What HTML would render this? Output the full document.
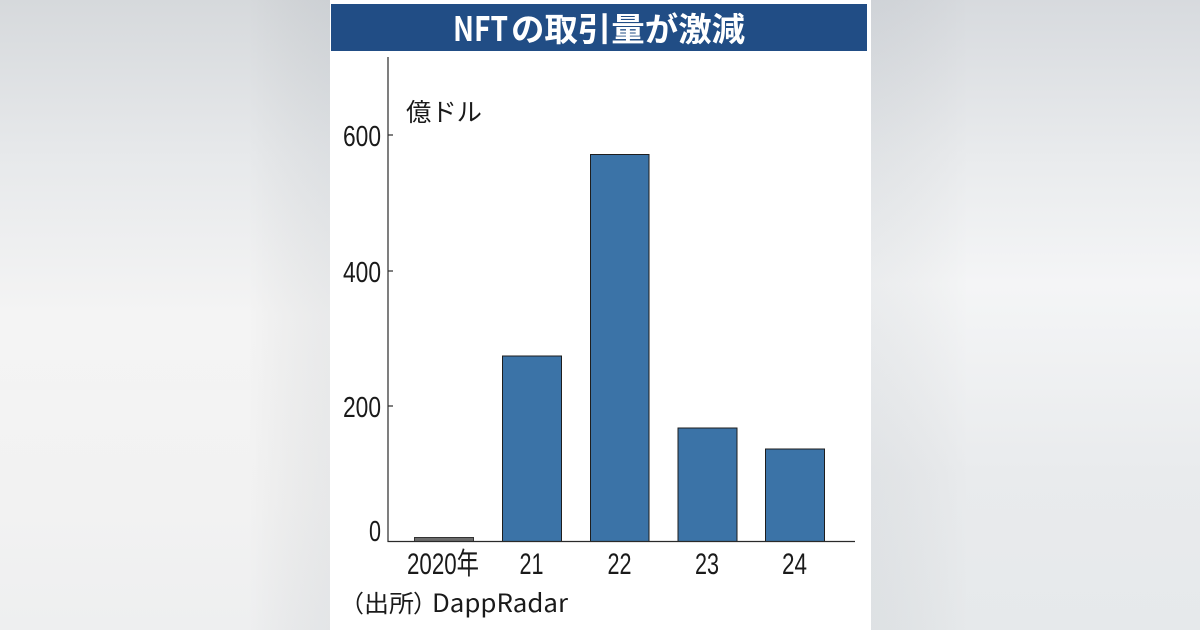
<!DOCTYPE html>
<html>
<head>
<meta charset="utf-8">
<style>
html,body{margin:0;padding:0;width:1200px;height:630px;overflow:hidden;}
body{background:#eef0f1;}
svg{display:block;}
.num{font-family:"Liberation Sans","Noto Sans CJK JP",sans-serif;fill:#1a1a1a;}
.jp{font-family:"Noto Sans CJK JP","Liberation Sans",sans-serif;fill:#1a1a1a;}
</style>
</head>
<body>
<svg width="1200" height="630" viewBox="0 0 1200 630" xmlns="http://www.w3.org/2000/svg">
  <defs>
    <linearGradient id="bgL" x1="0" y1="0" x2="0" y2="1">
      <stop offset="0" stop-color="#d6d9dc"/>
      <stop offset="0.25" stop-color="#e7e9eb"/>
      <stop offset="0.5" stop-color="#f4f4f4"/>
      <stop offset="0.8" stop-color="#f2f2f2"/>
      <stop offset="1" stop-color="#eeeff0"/>
    </linearGradient>
    <linearGradient id="bgR" x1="0" y1="0" x2="0" y2="1">
      <stop offset="0" stop-color="#d7dade"/>
      <stop offset="0.25" stop-color="#e9ebed"/>
      <stop offset="0.45" stop-color="#f4f5f6"/>
      <stop offset="0.75" stop-color="#e9ebed"/>
      <stop offset="1" stop-color="#e6e9eb"/>
    </linearGradient>
    <linearGradient id="shadeL" x1="0" y1="0" x2="1" y2="0">
      <stop offset="0" stop-color="#000" stop-opacity="0"/>
      <stop offset="0.75" stop-color="#000" stop-opacity="0"/>
      <stop offset="1" stop-color="#3a4a5a" stop-opacity="0.06"/>
    </linearGradient>
    <linearGradient id="shadeR" x1="0" y1="0" x2="1" y2="0">
      <stop offset="0" stop-color="#3a4a5a" stop-opacity="0.05"/>
      <stop offset="0.3" stop-color="#000" stop-opacity="0"/>
      <stop offset="1" stop-color="#000" stop-opacity="0"/>
    </linearGradient>
  </defs>

  <!-- background -->
  <rect x="0" y="0" width="330" height="630" fill="url(#bgL)"/>
  <rect x="0" y="0" width="330" height="630" fill="url(#shadeL)"/>
  <rect x="871" y="0" width="329" height="630" fill="url(#bgR)"/>
  <rect x="871" y="0" width="329" height="630" fill="url(#shadeR)"/>

  <!-- white panel -->
  <rect x="330" y="0" width="541" height="630" fill="#ffffff"/>

  <!-- title bar -->
  <rect x="331" y="4" width="536" height="47" fill="#214d85"/>
  <text x="453" y="41" font-family="'Noto Sans CJK JP','Liberation Sans',sans-serif" font-weight="bold" font-size="34" fill="#ffffff" textLength="55" lengthAdjust="spacingAndGlyphs">NFT</text>
  <text x="511" y="41" font-family="'Noto Sans CJK JP','Liberation Sans',sans-serif" font-weight="bold" font-size="33" fill="#ffffff" textLength="234" lengthAdjust="spacingAndGlyphs">の取引量が激減</text>

  <!-- unit label -->
  <text class="jp" x="406" y="121" font-size="25" textLength="76" lengthAdjust="spacingAndGlyphs">億ドル</text>

  <!-- bars -->
  <rect x="414.5" y="537.5" width="59" height="4" fill="#6c6c6c" stroke="#333" stroke-width="1"/>
  <rect x="502.5" y="356" width="59" height="185.5" fill="#3b73a7" stroke="#1e1e1e" stroke-width="1"/>
  <rect x="590.5" y="154.5" width="58.5" height="387" fill="#3b73a7" stroke="#1e1e1e" stroke-width="1"/>
  <rect x="678" y="428" width="59" height="113.5" fill="#3b73a7" stroke="#1e1e1e" stroke-width="1"/>
  <rect x="765.5" y="449" width="59" height="92.5" fill="#3b73a7" stroke="#1e1e1e" stroke-width="1"/>

  <!-- axes -->
  <line x1="388" y1="57" x2="388" y2="542" stroke="#2a2a2a" stroke-width="1.2"/>
  <line x1="387.5" y1="541.5" x2="855" y2="541.5" stroke="#2a2a2a" stroke-width="1.2"/>
  <!-- ticks -->
  <line x1="388" y1="135" x2="393" y2="135" stroke="#2a2a2a" stroke-width="1.2"/>
  <line x1="388" y1="271" x2="393" y2="271" stroke="#2a2a2a" stroke-width="1.2"/>
  <line x1="388" y1="406" x2="393" y2="406" stroke="#2a2a2a" stroke-width="1.2"/>

  <!-- y labels -->
  <text class="num" x="343" y="146" font-size="29" textLength="38" lengthAdjust="spacingAndGlyphs">600</text>
  <text class="num" x="343" y="282" font-size="29" textLength="38" lengthAdjust="spacingAndGlyphs">400</text>
  <text class="num" x="343" y="417" font-size="29" textLength="38" lengthAdjust="spacingAndGlyphs">200</text>
  <text class="num" x="369" y="541" font-size="29" textLength="12" lengthAdjust="spacingAndGlyphs">0</text>

  <!-- x labels -->
  <text class="num" x="407" y="574" font-size="30" textLength="72" lengthAdjust="spacingAndGlyphs">2020年</text>
  <text class="num" x="519.5" y="574" font-size="30" textLength="24" lengthAdjust="spacingAndGlyphs">21</text>
  <text class="num" x="607.5" y="574" font-size="30" textLength="24" lengthAdjust="spacingAndGlyphs">22</text>
  <text class="num" x="695" y="574" font-size="30" textLength="24" lengthAdjust="spacingAndGlyphs">23</text>
  <text class="num" x="782" y="574" font-size="30" textLength="25" lengthAdjust="spacingAndGlyphs">24</text>

  <!-- source -->
  <text class="jp" x="340" y="612" font-size="24">（</text>
  <text class="jp" x="364" y="612" font-size="24" textLength="50" lengthAdjust="spacingAndGlyphs">出所</text>
  <text class="jp" x="413" y="612" font-size="24">）</text>
  <text class="jp" x="432" y="612" font-size="25" textLength="136" lengthAdjust="spacingAndGlyphs">DappRadar</text>
</svg>
</body>
</html>
